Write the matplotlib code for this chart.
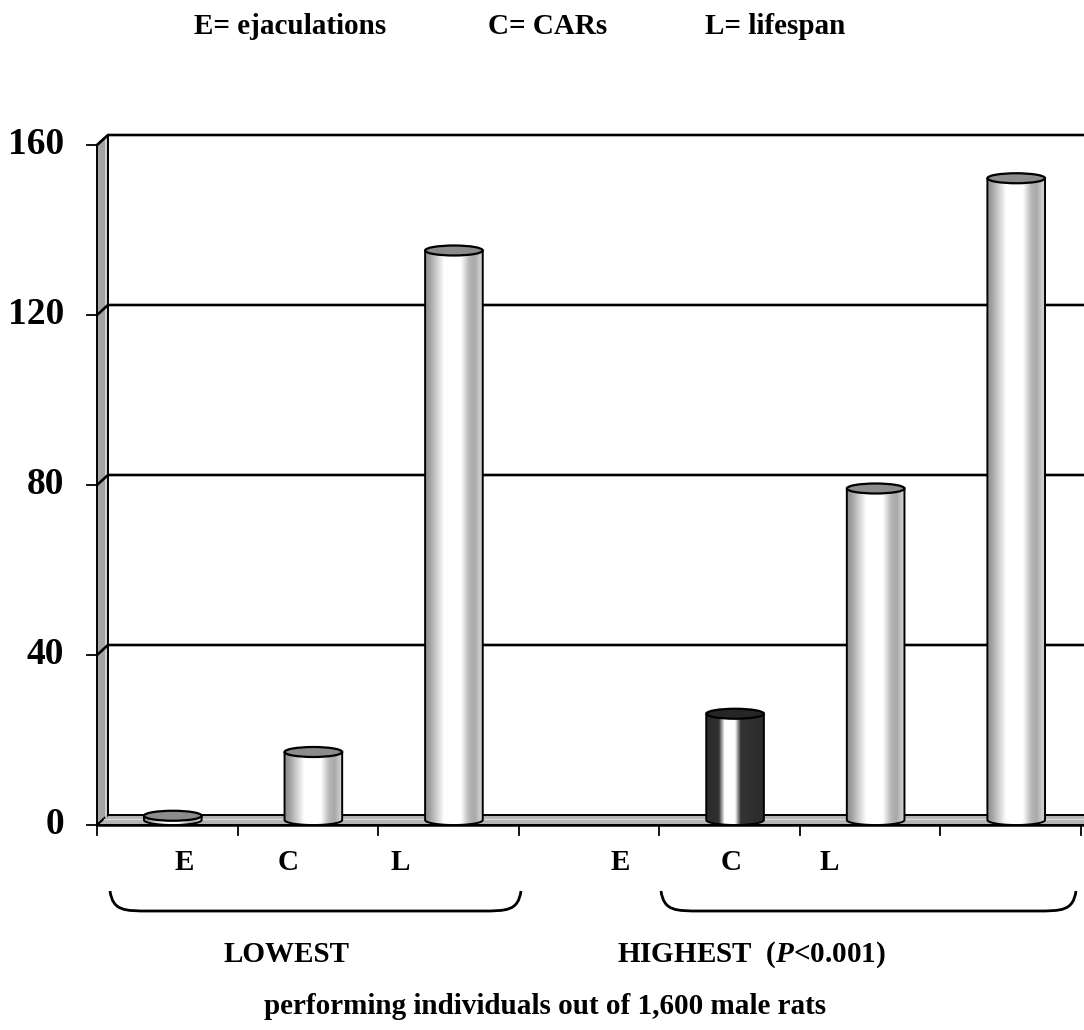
"""Cylinder bar chart: lowest vs highest performing male rats (E, C, L)."""

import matplotlib
matplotlib.use("Agg")
import matplotlib.pyplot as plt
import numpy as np
from matplotlib.patches import Ellipse, PathPatch, Polygon
from matplotlib.path import Path

plt.rcParams["font.family"] = ["Liberation Serif", "DejaVu Serif"]
plt.rcParams["mathtext.fontset"] = "custom"
plt.rcParams["mathtext.it"] = "Liberation Serif:italic:bold"
plt.rcParams["mathtext.rm"] = "Liberation Serif:bold"

# ---- data ----
group_names = ["LOWEST", "HIGHEST"]
lowest_values = [1, 16, 134]      # E, C, L
highest_values = [25, 78, 151]    # E, C, L
lowest_slots = [0, 1, 2]
highest_slots = [4, 5, 6]
n_slots = 7
y_ticks = [0, 40, 80, 120, 160]
legend_items = ["E= ejaculations", "C= CARs", "L= lifespan"]
bar_labels = ["E", "C", "L"]

# ---- layout (pixels on a 1084x1030 canvas) ----
W, H = 1084, 1030
AX_LEFT, AX_RIGHT = 97, 1081
AX_TOP, AX_BOTTOM = 145, 825
DEPTH_X, DEPTH_Y = 11, 10
BAR_W = 0.41
CAP_PX = 5

fig = plt.figure(figsize=(W / 100, H / 100), dpi=100)
ax = fig.add_axes([AX_LEFT / W, 1 - AX_BOTTOM / H,
                   (AX_RIGHT - AX_LEFT) / W, (AX_BOTTOM - AX_TOP) / H])
ax.set_xlim(-0.5, n_slots - 0.5)
ax.set_ylim(0, 160)
ax.axis("off")

px_x = n_slots / (AX_RIGHT - AX_LEFT)   # data units per pixel (x)
px_y = 160 / (AX_BOTTOM - AX_TOP)       # data units per pixel (y)
DX, DY = DEPTH_X * px_x, DEPTH_Y * px_y
RY = CAP_PX * px_y
x_left = -0.5
x_far = n_slots - 0.5 + 0.3

# left wall
wall = Polygon([(x_left, 0), (x_left, 160), (x_left + DX, 160 + DY), (x_left + DX, DY)],
               closed=True, facecolor="#a4a4a4", edgecolor="black", lw=1.4,
               clip_on=False, zorder=1)
ax.add_patch(wall)
ax.plot([x_left + DX * 0.8] * 2, [DY * 0.8, 160 + DY * 0.8], color="#d4d4d4",
        lw=1.3, clip_on=False, zorder=1.1)

# floor
floor = Polygon([(x_left, 0), (x_far, 0), (x_far + DX, DY), (x_left + DX, DY)],
                closed=True, facecolor="#b4b4b4", edgecolor="black", lw=1.4,
                clip_on=False, zorder=1)
ax.add_patch(floor)
ax.plot([x_left + DX * 0.6, x_far], [DY * 0.6] * 2, color="#d8d8d8",
        lw=1.0, clip_on=False, zorder=1.1)
ax.plot([x_left, x_far], [0, 0], color="black", lw=1.8, clip_on=False, zorder=1.2)

# gridlines on the back wall
for t in y_ticks[1:]:
    ax.plot([x_left, x_left + DX, x_far], [t, t + DY, t + DY], color="black",
            lw=1.9, clip_on=False, zorder=1.5)

# y ticks and labels
for t in y_ticks:
    ax.plot([x_left - 10 * px_x, x_left], [t, t], color="black", lw=1.3,
            clip_on=False, zorder=2)
    ax.text(x_left - 33 * px_x, t, str(t), ha="right", va="center",
            fontsize=27, fontweight="bold", clip_on=False)

# category boundary ticks
for b in np.arange(-0.5, n_slots, 1.0):
    ax.plot([b, b], [0, -10 * px_y], color="black", lw=1.3, clip_on=False, zorder=2)


def shade_profile(dark):
    pos = np.linspace(0, 1, 200)
    if dark:
        stops = [0, 0.22, 0.32, 0.5, 0.6, 1.0]
        vals = [0.17, 0.19, 1.0, 1.0, 0.2, 0.17]
    else:
        stops = [0, 0.08, 0.33, 0.62, 0.76, 0.86, 0.95, 1.0]
        vals = [0.55, 0.63, 1.0, 1.0, 0.72, 0.66, 0.8, 0.82]
    g = np.interp(pos, stops, vals)
    return np.dstack([g, g, g]).reshape(1, -1, 3)


def cylinder(slot, value, dark=False):
    xc = slot + DX / 2
    base = DY / 2
    top = value + DY / 2
    x0, x1 = xc - BAR_W / 2, xc + BAR_W / 2
    theta = np.linspace(np.pi, 2 * np.pi, 40)
    arc = np.column_stack([xc + BAR_W / 2 * np.cos(theta), base + RY * np.sin(theta)])
    verts = np.vstack([[x0, top], arc, [x1, top], [x0, top]])
    body = PathPatch(Path(verts), facecolor="none", edgecolor="black", lw=1.4,
                     clip_on=False, zorder=4)
    ax.add_patch(body)
    img = ax.imshow(shade_profile(dark), extent=(x0, x1, base - RY, top),
                    aspect="auto", interpolation="bilinear", zorder=3)
    img.set_clip_path(body)
    cap_color = "#262626" if dark else "#8c8c8c"
    ax.add_patch(Ellipse((xc, top), BAR_W, 2 * RY, facecolor=cap_color,
                         edgecolor="black", lw=1.6, clip_on=False, zorder=5))


for s, v in zip(lowest_slots, lowest_values):
    cylinder(s, v)
for i, (s, v) in enumerate(zip(highest_slots, highest_values)):
    cylinder(s, v, dark=(i == 0))

# text labels
txt = dict(fontsize=21, fontweight="bold", ha="center", va="center")
for label, x in zip(legend_items, [290, 548, 775]):
    fig.text(x / W, 1 - 27 / H, label, **txt)
for label, x in zip(bar_labels, [184, 288, 400]):
    fig.text(x / W, 1 - 862 / H, label, **txt)
for label, x in zip(bar_labels, [620, 731, 829]):
    fig.text(x / W, 1 - 862 / H, label, **txt)

fig.text(286 / W, 1 - 955 / H, group_names[0], **txt)
fig.text(752 / W, 1 - 955 / H, group_names[1] + r"  ($\mathit{P}$<0.001)", **txt)
fig.text(545 / W, 1 - 1006 / H, "performing individuals out of 1,600 male rats", **txt)


def brace(x0, x1, y_top, y_bot):
    pts = [(x0, y_top), (x0 + 3, y_bot), (x0 + 14, y_bot), (x0 + 40, y_bot),
           (x1 - 40, y_bot),
           (x1 - 14, y_bot), (x1 - 3, y_bot), (x1, y_top)]
    codes = [Path.MOVETO, Path.CURVE4, Path.CURVE4, Path.CURVE4, Path.LINETO,
             Path.CURVE4, Path.CURVE4, Path.CURVE4]
    verts = [(x / W, 1 - y / H) for x, y in pts]
    fig.add_artist(PathPatch(Path(verts, codes), facecolor="none", edgecolor="black",
                             lw=2.0, transform=fig.transFigure))


brace(110, 521, 891, 911)
brace(661, 1076, 891, 911)

fig.savefig("out.png", dpi=100)
